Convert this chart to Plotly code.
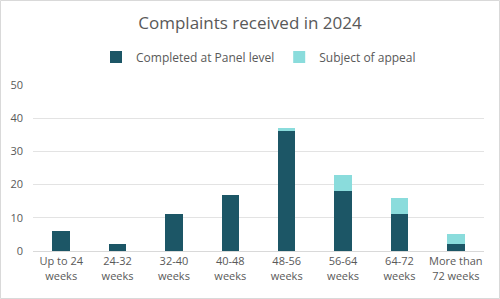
import plotly.graph_objects as go

categories = ["Up to 24<br>weeks", "24-32<br>weeks", "32-40<br>weeks", "40-48<br>weeks",
              "48-56<br>weeks", "56-64<br>weeks", "64-72<br>weeks", "More than<br>72 weeks"]
completed = [6, 2, 11, 17, 36, 18, 11, 2]
appeal = [0, 0, 0, 0, 1, 5, 5, 3]

W, H = 500, 299
ml, mr, mt, mb = 33, 16, 85, 48

fig = go.Figure()
fig.add_trace(go.Bar(x=categories, y=completed, name="Completed at Panel level",
                     marker=dict(color="#1c5666", line=dict(width=0))))
fig.add_trace(go.Bar(x=categories, y=appeal, name="Subject of appeal",
                     marker=dict(color="#8adcdc", line=dict(width=0))))

pw = W - ml - mr
ph = H - mt - mb
fig.add_shape(type="rect", xref="paper", yref="paper",
              x0=(-ml + 0.5) / pw, x1=(pw + mr - 0.5) / pw,
              y0=(-mb + 0.5) / ph, y1=(ph + mt - 0.5) / ph,
              line=dict(color="#d9d9d9", width=1), layer="below")

fig.update_layout(
    width=W, height=H,
    margin=dict(l=ml, r=mr, t=mt, b=mb),
    barmode="stack", bargap=0.69,
    paper_bgcolor="white", plot_bgcolor="white",
    font=dict(family="Open Sans, Liberation Sans, sans-serif", color="#595959", size=11),
    title=dict(text="Complaints received in 2024", x=0.5, xanchor="center",
               y=1 - 23 / H, yanchor="middle",
               font=dict(size=17, color="#595959")),
    legend=dict(orientation="h", x=0.5, xanchor="center", y=1 + 28 / ph, yanchor="middle",
                font=dict(size=12, color="#595959"), itemwidth=30, traceorder="normal"),
    xaxis=dict(showgrid=False, showline=True, linecolor="#d9d9d9", ticks="",
               automargin=False, tickfont=dict(size=11, color="#595959")),
    yaxis=dict(range=[0, 50], dtick=10, showgrid=True, gridcolor="#e3e3e3",
               zeroline=False, ticks="", ticklabelstandoff=9, automargin=False,
               tickfont=dict(size=11, color="#595959")),
)

fig.write_html("out.html")
